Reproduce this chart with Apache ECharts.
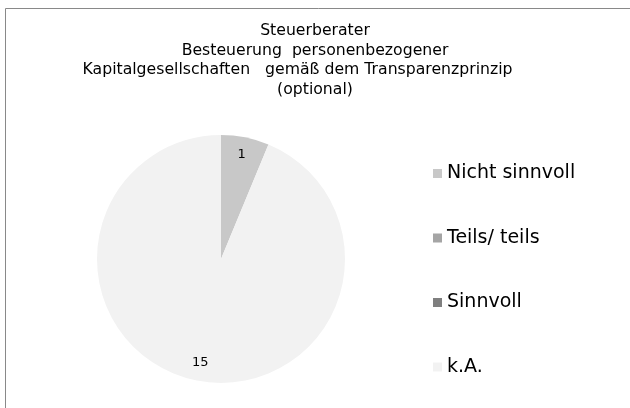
<!DOCTYPE html>
<html>
<head>
<meta charset="utf-8">
<script src="https://cdn.jsdelivr.net/npm/echarts@6/dist/echarts.min.js"></script>
<style>
  html, body { margin: 0; padding: 0; background: #fff; }
  #chart { width: 630px; height: 408px; }
</style>
</head>
<body>
<div id="chart"></div>
<script>
// Antworten (Kategorien) und Anzahl
const categories = ['Nicht sinnvoll', 'Teils/ teils', 'Sinnvoll', 'k.A.'];
const counts = [1, 0, 0, 15];
const sliceColors = ['#c8c8c8', '#a5a5a5', '#7f7f7f', '#f2f2f2'];
const titleLines = [
  'Steuerberater',
  'Besteuerung  personenbezogener',
  'Kapitalgesellschaften   gemäß dem Transparenzprinzip       ',
  '(optional)'
];

const font = '"DejaVu Sans", sans-serif';
const chart = echarts.init(document.getElementById('chart'));

const pieData = categories.map((name, i) => ({
  name,
  value: counts[i],
  itemStyle: { color: sliceColors[i] }
}));

const center = [221, 259];
const radius = 124;

chart.setOption({
  animation: false,
  textStyle: { fontFamily: font },
  graphic: [{
    type: 'rect',
    shape: { x: 5.5, y: 8.5, width: 700, height: 500 },
    style: { fill: 'none', stroke: '#898989', lineWidth: 1 },
    silent: true
  }],
  title: {
    text: titleLines.join('\n'),
    left: 'center',
    top: 21,
    padding: 0,
    textStyle: {
      fontFamily: font,
      fontSize: 15.7,
      fontWeight: 'normal',
      color: '#000',
      lineHeight: 19.7
    }
  },
  legend: {
    orient: 'vertical',
    left: 433,
    top: 164,
    padding: 0,
    itemWidth: 9,
    itemHeight: 9,
    itemGap: 45.5,
    icon: 'rect',
    data: categories,
    itemStyle: { borderWidth: 0 },
    textStyle: { fontFamily: font, fontSize: 19, color: '#000' }
  },
  series: [
    {
      type: 'pie',
      center,
      radius,
      startAngle: 90,
      clockwise: true,
      label: { show: false },
      labelLine: { show: false },
      itemStyle: { borderWidth: 0 },
      emphasis: { disabled: true },
      data: pieData
    },
    {
      // nur Beschriftungen, nahe am Rand wie im Original
      type: 'pie',
      center,
      radius: [radius * 0.66, radius],
      startAngle: 90,
      clockwise: true,
      silent: true,
      itemStyle: { color: 'transparent', borderWidth: 0 },
      label: {
        show: true,
        position: 'inside',
        fontFamily: font,
        fontSize: 13,
        color: '#000',
        formatter: p => (p.value ? String(p.value) : '')
      },
      labelLine: { show: false },
      emphasis: { disabled: true },
      data: categories.map((name, i) => ({ name, value: counts[i] }))
    }
  ]
});
</script>
</body>
</html>
